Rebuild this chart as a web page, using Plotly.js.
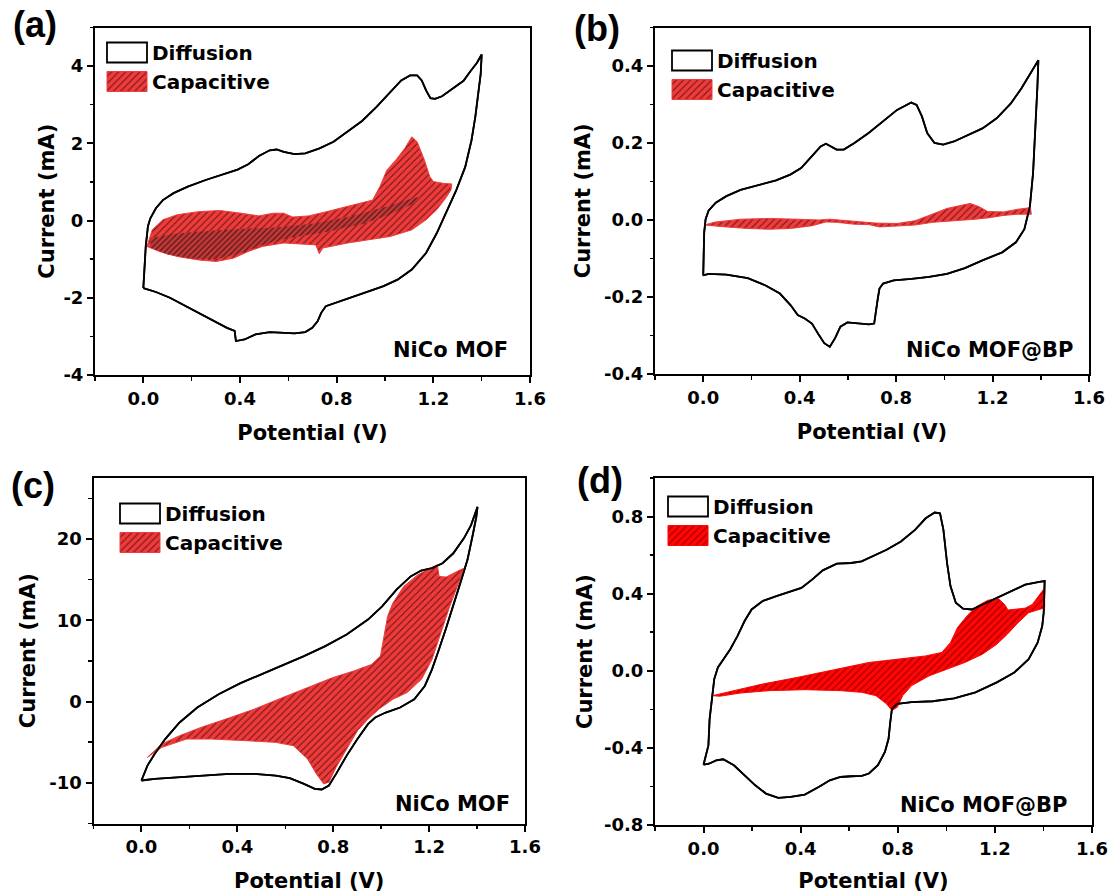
<!DOCTYPE html>
<html><head><meta charset="utf-8">
<script src="https://cdn.plot.ly/plotly-3.0.1.min.js"></script>
<style>html,body{margin:0;padding:0;background:#fff}#chart{width:1112px;height:893px}</style>
</head><body><div id="chart"></div>
<script>
// ---------- Data (Potential V, Current mA) ----------
// Panel (a) NiCo MOF
const aDiffV = [0,0.004,0.010,0.019,0.029,0.052,0.081,0.125,0.184,0.258,0.331,0.390,0.434,0.478,0.523,0.552,0.581,0.626,0.670,0.729,0.787,0.846,0.905,0.964,1.023,1.067,1.104,1.133,1.152,1.170,1.188,1.207,1.236,1.280,1.325,1.355,1.380,1.400,
  1.396,1.386,1.374,1.358,1.332,1.295,1.258,1.214,1.170,1.111,1.052,0.994,0.935,0.876,0.817,0.773,0.755,0.736,0.721,0.699,0.670,0.626,0.567,0.523,0.464,0.419,0.383,0.378,0.346,0.287,0.228,0.169,0.110,0.052,0];
const aDiffI = [-1.75,-1.19,-0.67,-0.15,0.06,0.32,0.53,0.71,0.88,1.05,1.20,1.32,1.46,1.67,1.82,1.84,1.78,1.72,1.74,1.87,2.04,2.30,2.58,2.94,3.33,3.63,3.76,3.76,3.63,3.37,3.17,3.15,3.22,3.41,3.62,3.88,4.08,4.30,
  3.80,3.30,2.70,2.08,1.39,0.79,0.28,-0.33,-0.84,-1.27,-1.53,-1.70,-1.83,-1.96,-2.09,-2.18,-2.22,-2.39,-2.61,-2.78,-2.89,-2.92,-2.91,-2.89,-2.95,-3.08,-3.12,-2.86,-2.78,-2.58,-2.39,-2.20,-2.00,-1.85,-1.75];
const aCapV = [0.015,0.037,0.081,0.140,0.228,0.316,0.405,0.478,0.537,0.581,0.618,0.684,0.758,0.846,0.935,0.949,0.979,1.008,1.045,1.082,1.111,1.133,1.163,1.185,1.200,1.244,1.276,1.273,1.251,1.214,1.170,1.111,1.023,0.935,0.846,0.743,0.728,0.714,0.670,0.581,0.493,0.434,0.375,0.302,0.228,0.140,0.066,0.015];
const aCapI = [-0.67,-0.24,0.02,0.15,0.23,0.26,0.19,0.12,0.19,0.19,0.09,0.12,0.23,0.36,0.49,0.53,0.88,1.31,1.57,1.87,2.17,2.04,1.57,1.14,1.01,0.96,0.95,0.79,0.58,0.28,0.02,-0.24,-0.41,-0.50,-0.58,-0.71,-0.86,-0.63,-0.61,-0.58,-0.67,-0.80,-0.97,-1.06,-1.02,-0.93,-0.80,-0.67];
// darker region where the two capacitive branches overlap in (a)
const aOverlapV = [0.03,0.12,0.25,0.40,0.55,0.70,0.85,1.00,1.10,1.15,1.12,1.02,0.90,0.75,0.60,0.50,0.40,0.30,0.20,0.10,0.03];
const aOverlapI = [-0.45,-0.35,-0.28,-0.22,-0.18,-0.08,0.10,0.35,0.55,0.62,0.45,0.15,-0.10,-0.30,-0.45,-0.62,-0.85,-1.00,-0.98,-0.88,-0.70];

// Panel (b) NiCo MOF@BP
const bDiffV = [0,0.004,0.010,0.022,0.052,0.096,0.155,0.229,0.302,0.361,0.406,0.450,0.487,0.509,0.531,0.553,0.583,0.627,0.686,0.745,0.804,0.863,0.885,0.907,0.929,0.959,0.995,1.040,1.099,1.158,1.217,1.276,1.320,1.390,
  1.386,1.378,1.368,1.355,1.332,1.297,1.240,1.158,1.085,1.011,0.937,0.864,0.790,0.746,0.731,0.724,0.716,0.709,0.687,0.643,0.598,0.569,0.547,0.525,0.502,0.480,0.451,0.421,0.392,0.362,0.318,0.259,0.185,0.096,0.022,0];
const bDiffI = [-0.144,-0.032,0.002,0.024,0.045,0.062,0.078,0.090,0.103,0.118,0.135,0.165,0.191,0.198,0.191,0.183,0.183,0.200,0.226,0.256,0.286,0.305,0.299,0.269,0.226,0.200,0.196,0.204,0.221,0.238,0.264,0.303,0.342,0.415,
  0.346,0.226,0.122,0.036,-0.024,-0.058,-0.084,-0.105,-0.125,-0.140,-0.148,-0.153,-0.157,-0.165,-0.178,-0.204,-0.238,-0.269,-0.271,-0.269,-0.266,-0.277,-0.307,-0.329,-0.320,-0.299,-0.269,-0.256,-0.247,-0.221,-0.191,-0.170,-0.151,-0.142,-0.140,-0.144];
const bCapV = [0.004,0.052,0.155,0.273,0.392,0.480,0.525,0.569,0.643,0.716,0.804,0.878,0.937,1.011,1.070,1.107,1.143,1.180,1.246,1.305,1.357,1.361,1.305,1.246,1.187,1.128,1.040,0.952,0.878,0.804,0.731,0.687,0.627,0.553,0.509,0.451,0.362,0.273,0.185,0.096,0.004];
const bCapI = [-0.013,-0.005,0.002,0.004,0.002,0.000,0.002,0.000,-0.005,-0.008,-0.009,-0.002,0.012,0.030,0.038,0.043,0.035,0.022,0.021,0.028,0.032,0.015,0.015,0.012,0.006,0.002,-0.002,-0.006,-0.013,-0.015,-0.018,-0.012,-0.011,-0.006,-0.005,-0.015,-0.022,-0.024,-0.022,-0.018,-0.013];

// Panel (c) NiCo MOF
const cDiffV = [0,0.025,0.055,0.099,0.159,0.233,0.322,0.411,0.500,0.589,0.678,0.767,0.856,0.945,1.004,1.064,1.123,1.167,1.212,1.256,1.301,1.345,1.375,1.402,
  1.397,1.382,1.360,1.330,1.301,1.271,1.241,1.212,1.182,1.138,1.079,1.019,0.975,0.945,0.901,0.856,0.812,0.782,0.752,0.723,0.678,0.619,0.560,0.471,0.367,0.263,0.144,0.055,0];
const cDiffI = [-9.71,-7.88,-6.45,-4.61,-2.57,-0.73,0.90,2.24,3.35,4.45,5.59,6.82,8.24,10.08,11.71,13.76,15.39,16.12,16.41,17.02,18.24,20.08,21.71,23.96,
  22.73,20.49,17.43,14.57,11.71,9.06,6.41,3.96,1.92,0.29,-0.73,-1.35,-1.96,-2.78,-4.61,-6.65,-8.90,-10.33,-10.82,-10.73,-10.12,-9.43,-9.10,-8.90,-8.90,-9.10,-9.31,-9.51,-9.71];
const cCapV = [0.025,0.085,0.159,0.248,0.352,0.470,0.589,0.693,0.797,0.886,0.960,0.997,1.012,1.027,1.049,1.094,1.153,1.205,1.234,1.242,1.271,1.316,1.345,
  1.323,1.286,1.249,1.212,1.168,1.108,1.049,0.990,0.945,0.901,0.856,0.812,0.782,0.760,0.730,0.693,0.634,0.560,0.441,0.292,0.188,0.085,0.025];
const cCapI = [-6.86,-5.22,-4.20,-3.18,-2.16,-0.94,0.49,1.71,2.94,3.76,4.57,5.59,8.04,10.49,12.12,14.16,15.59,16.41,16.82,15.39,15.31,16.00,16.40,
  14.57,11.71,8.45,5.18,2.73,1.10,0.29,-0.94,-2.16,-3.59,-5.84,-8.08,-9.92,-10.12,-8.90,-7.06,-5.43,-5.02,-4.82,-4.61,-4.61,-5.63,-6.86];

// Panel (d) NiCo MOF@BP
const dDiffV = [0,0.020,0.025,0.033,0.044,0.059,0.081,0.110,0.140,0.169,0.198,0.242,0.300,0.359,0.403,0.447,0.491,0.549,0.608,0.651,0.695,0.754,0.813,0.871,0.915,0.952,0.974,0.988,1.003,1.017,1.039,1.069,1.105,1.149,1.208,1.266,1.325,1.383,1.405,
  1.401,1.395,1.376,1.339,1.280,1.208,1.120,1.032,0.944,0.857,0.798,0.776,0.769,0.762,0.747,0.718,0.681,0.652,0.608,0.564,0.520,0.476,0.417,0.359,0.308,0.257,0.213,0.169,0.125,0.081,0.052,0.022,0];
const dDiffI = [-0.487,-0.387,-0.249,-0.146,-0.043,0.017,0.060,0.112,0.181,0.258,0.318,0.361,0.387,0.413,0.430,0.473,0.521,0.556,0.559,0.568,0.594,0.628,0.671,0.731,0.791,0.821,0.817,0.731,0.559,0.439,0.353,0.322,0.318,0.344,0.378,0.413,0.447,0.461,0.465,
  0.301,0.232,0.146,0.060,-0.009,-0.060,-0.112,-0.143,-0.158,-0.163,-0.172,-0.198,-0.267,-0.353,-0.421,-0.490,-0.533,-0.545,-0.547,-0.551,-0.568,-0.602,-0.642,-0.654,-0.659,-0.637,-0.594,-0.542,-0.490,-0.459,-0.465,-0.482,-0.487];
const dCapV = [0.037,0.125,0.242,0.388,0.534,0.681,0.798,0.915,0.981,1.017,1.046,1.090,1.127,1.171,1.215,1.240,1.254,1.281,1.325,1.354,1.383,1.405,
  1.405,1.376,1.339,1.295,1.251,1.208,1.149,1.076,1.003,0.930,0.857,0.820,0.798,0.776,0.754,0.710,0.652,0.564,0.417,0.271,0.154,0.066,0.037];
const dCapI = [-0.129,-0.103,-0.069,-0.034,0.005,0.043,0.060,0.077,0.095,0.146,0.224,0.292,0.335,0.366,0.373,0.344,0.315,0.318,0.325,0.344,0.396,0.430,
  0.327,0.315,0.301,0.249,0.189,0.138,0.086,0.043,0.009,-0.026,-0.077,-0.129,-0.189,-0.206,-0.172,-0.129,-0.112,-0.103,-0.098,-0.103,-0.115,-0.132,-0.129];

// Tick values / labels
const xTicks = [0, 0.4, 0.8, 1.2, 1.6];
const aYTicks = [-4, -2, 0, 2, 4];
const bYTicks = [-0.4, -0.2, 0, 0.2, 0.4];
const cYTicks = [-10, 0, 10, 20];
const dYTicks = [-0.8, -0.4, 0, 0.4, 0.8];
const panelLabels = ['(a)', '(b)', '(c)', '(d)'];
const sampleNames = ['NiCo MOF', 'NiCo MOF@BP', 'NiCo MOF', 'NiCo MOF@BP'];
const seriesNames = ['Diffusion', 'Capacitive'];

// ---------- Layout helpers ----------
const W = 1112, H = 893;
const FONT = 'DejaVu Sans';
const BOLD = {family: FONT, weight: 'bold', color: '#000'};
function xd(x0, x1) { return [x0 / W, x1 / W]; }
function yd(y0, y1) { return [1 - y1 / H, 1 - y0 / H]; }

function xAxis(dom, anchor) {
  return {
    domain: dom, anchor: anchor, range: [-0.2, 1.6],
    tickmode: 'array', tickvals: xTicks, ticktext: xTicks.map(v => v.toFixed(1)),
    ticks: 'outside', ticklen: 6, tickwidth: 2, tickcolor: '#000',
    minor: {tickmode: 'linear', tick0: 0, dtick: 0.2, ticks: 'outside', ticklen: 3.5, tickwidth: 1.5, tickcolor: '#000'},
    showline: true, linewidth: 2, linecolor: '#000', mirror: true,
    showgrid: false, zeroline: false, automargin: false,
    tickfont: Object.assign({size: 18}, BOLD),
    title: {text: 'Potential (V)', font: Object.assign({size: 21}, BOLD), standoff: 18}
  };
}
function yAxis(dom, anchor, range, ticks, dec, minorD, standoff) {
  return {
    domain: dom, anchor: anchor, range: range,
    tickmode: 'array', tickvals: ticks, ticktext: ticks.map(v => v.toFixed(dec)),
    ticks: 'outside', ticklen: 6, tickwidth: 2, tickcolor: '#000',
    minor: {tickmode: 'linear', tick0: 0, dtick: minorD, ticks: 'outside', ticklen: 3.5, tickwidth: 1.5, tickcolor: '#000'},
    showline: true, linewidth: 2, linecolor: '#000', mirror: true,
    showgrid: false, zeroline: false, automargin: false,
    tickfont: Object.assign({size: 18}, BOLD),
    title: {text: 'Current (mA)', font: Object.assign({size: 21}, BOLD), standoff: standoff}
  };
}

const panels = [
  {dV: aDiffV, dI: aDiffI, cV: aCapV, cI: aCapI, xa: 'x', ya: 'y', lg: 'legend', bg: '#ef3b3b', fg: '#7a1a1a'},
  {dV: bDiffV, dI: bDiffI, cV: bCapV, cI: bCapI, xa: 'x2', ya: 'y2', lg: 'legend2', bg: '#ef3b3b', fg: '#7a1a1a'},
  {dV: cDiffV, dI: cDiffI, cV: cCapV, cI: cCapI, xa: 'x3', ya: 'y3', lg: 'legend3', bg: '#ee3a3a', fg: '#7a1a1a'},
  {dV: dDiffV, dI: dDiffI, cV: dCapV, cI: dCapI, xa: 'x4', ya: 'y4', lg: 'legend4', bg: '#ff0505', fg: '#a00000'}
];

const traces = [];
panels.forEach((p, k) => {
  traces.push({type: 'scatter', mode: 'lines', x: p.dV, y: p.dI, xaxis: p.xa, yaxis: p.ya,
    name: seriesNames[0], legend: p.lg, fill: 'toself', fillcolor: '#ffffff',
    line: {color: '#000', width: 1.8}, hoverinfo: 'skip'});
  traces.push({type: 'scatter', mode: 'lines', x: p.cV, y: p.cI, xaxis: p.xa, yaxis: p.ya,
    name: seriesNames[1], legend: p.lg, fill: 'toself', fillcolor: p.bg,
    fillpattern: {shape: '/', bgcolor: p.bg, fgcolor: p.fg, size: 5, solidity: 0.22, fillmode: 'replace'},
    line: {color: p.bg, width: 1}, hoverinfo: 'skip'});
  if (k === 0) {
    traces.push({type: 'scatter', mode: 'lines', x: aOverlapV, y: aOverlapI, xaxis: p.xa, yaxis: p.ya,
      showlegend: false, fill: 'toself', fillcolor: '#b83434',
      fillpattern: {shape: '/', bgcolor: '#c23a3a', fgcolor: '#5a1414', size: 4, solidity: 0.3, fillmode: 'replace'},
      line: {width: 0, color: 'rgba(0,0,0,0)'}, hoverinfo: 'skip'});
  }
  traces.push({type: 'scatter', mode: 'lines', x: p.dV, y: p.dI, xaxis: p.xa, yaxis: p.ya,
    showlegend: false, line: {color: '#000', width: 1.8}, hoverinfo: 'skip'});
});

function legendAt(px, py) {
  return {x: px / W, y: 1 - py / H, xanchor: 'left', yanchor: 'top', bgcolor: 'rgba(0,0,0,0)',
    borderwidth: 0, itemwidth: 40, tracegroupgap: 0, traceorder: 'normal',
    font: Object.assign({size: 20}, BOLD)};
}

function ann(text, xref, yref, x, y, size, xanchor, yanchor, family) {
  return {text: text, xref: xref, yref: yref, x: x, y: y, xanchor: xanchor, yanchor: yanchor,
    showarrow: false, font: {family: family || FONT, weight: 'bold', color: '#000', size: size}};
}

const layout = {
  width: W, height: H, margin: {l: 0, r: 0, t: 0, b: 0},
  paper_bgcolor: '#fff', plot_bgcolor: 'rgba(0,0,0,0)',
  xaxis: xAxis(xd(95, 530), 'y'),
  yaxis: yAxis(yd(27.5, 375), 'x', [-4, 5], aYTicks, 0, 1, 3),
  xaxis2: xAxis(xd(655, 1089), 'y2'),
  yaxis2: yAxis(yd(27.5, 374), 'x2', [-0.4, 0.5], bYTicks, 1, 0.1, 8),
  xaxis3: xAxis(xd(93.5, 525), 'y3'),
  yaxis3: yAxis(yd(478, 823.5), 'x3', [-15, 27.5], cYTicks, 0, 5, 8),
  xaxis4: xAxis(xd(655, 1092), 'y4'),
  yaxis4: yAxis(yd(478, 825), 'x4', [-0.8, 1.0], dYTicks, 1, 0.2, 6),
  legend: legendAt(102, 33),
  legend2: legendAt(667, 41),
  legend3: legendAt(115, 494),
  legend4: legendAt(663, 487),
  annotations: [
    ann(panelLabels[0], 'paper', 'paper', 35 / W, 1 - 24 / H, 36, 'center', 'middle', 'Liberation Sans'),
    ann(panelLabels[1], 'paper', 'paper', 597 / W, 1 - 28 / H, 36, 'center', 'middle', 'Liberation Sans'),
    ann(panelLabels[2], 'paper', 'paper', 33 / W, 1 - 486 / H, 36, 'center', 'middle', 'Liberation Sans'),
    ann(panelLabels[3], 'paper', 'paper', 600 / W, 1 - 480 / H, 36, 'center', 'middle', 'Liberation Sans'),
    ann(sampleNames[0], 'x domain', 'y domain', 0.955, 0.072, 21, 'right', 'middle'),
    ann(sampleNames[1], 'x2 domain', 'y2 domain', 0.968, 0.068, 21, 'right', 'middle'),
    ann(sampleNames[2], 'x3 domain', 'y3 domain', 0.970, 0.055, 21, 'right', 'middle'),
    ann(sampleNames[3], 'x4 domain', 'y4 domain', 0.948, 0.059, 21, 'right', 'middle')
  ],
  showlegend: true
};

function boxLegends(gd) {
  // enlarge legend swatches into boxes like the original figure
  gd.querySelectorAll('.infolayer g.traces').forEach(tr => {
    tr.querySelectorAll('.legendfill path').forEach(p => p.setAttribute('d', 'M5,-10h40v20h-40z'));
    tr.querySelectorAll('.legendlines path').forEach(p => {
      p.setAttribute('d', 'M5,-10h40v20h-40z');
      p.style.fill = 'none';
    });
  });
}

Plotly.newPlot('chart', traces, layout, {displayModeBar: false, staticPlot: true}).then(gd => {
  boxLegends(gd);
  gd.on('plotly_afterplot', () => boxLegends(gd));
  setTimeout(() => boxLegends(gd), 50);
});
</script>
</body></html>
